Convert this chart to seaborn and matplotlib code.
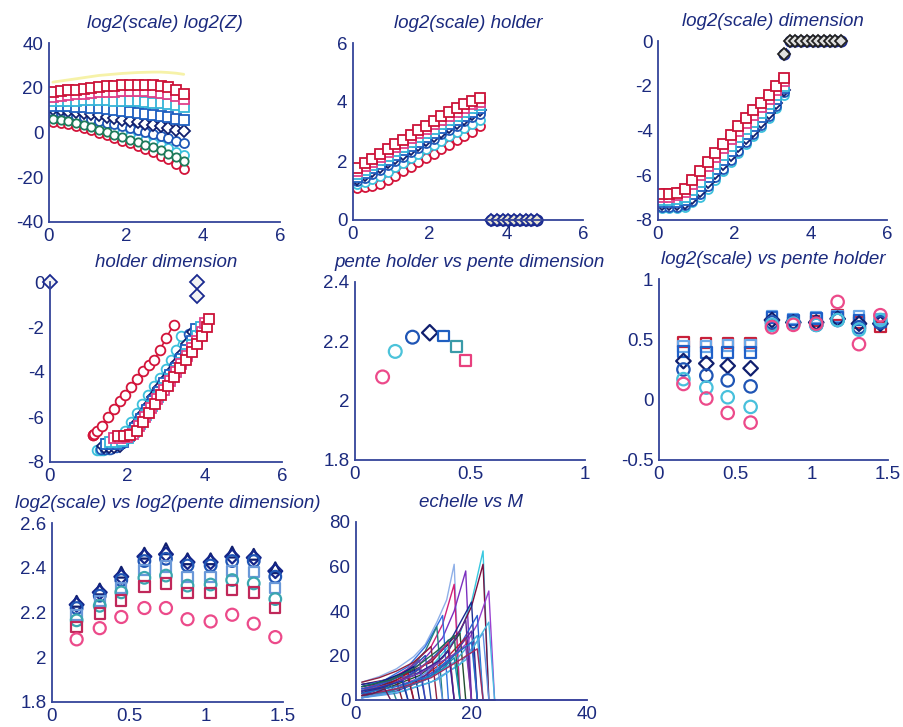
import numpy as np
import pandas as pd
import matplotlib
matplotlib.use("Agg")
import matplotlib.pyplot as plt
import seaborn as sns
from matplotlib.ticker import FuncFormatter

sns.set_theme(style="white")
plt.rcParams["font.family"] = ["Liberation Sans", "DejaVu Sans"]
plt.rcParams["axes.unicode_minus"] = False

TXT = "#1b2a7e"
AX_COL = "#34449a"

# ---------------- series styling (order: top -> bottom in panel 1) ----------
SER_NAMES = ["q1", "q2", "q3", "q4", "q5", "q6", "q7", "q8"]
SER_COLORS = ["#cc1238", "#e0408a", "#35b3d8", "#1f5fc0", "#101f6e", "#1f58b8", "#3cc0dc", "#d3143a"]
SER_MARKERS = ["s", "s", "s", "s", "D", "o", "o", "o"]

# ---------------- panel 1 : log2(scale) vs log2(Z) ----------------
P1_X = [0.1, 0.3, 0.5, 0.7, 0.9, 1.1, 1.3, 1.5, 1.7, 1.9, 2.1, 2.3, 2.5, 2.7, 2.9, 3.1, 3.3, 3.5]
P1_YELLOW = [22.5, 23, 23.5, 24, 24.5, 25, 25.5, 25.8, 26.1, 26.4, 26.6, 26.8, 26.9, 27.0, 27.0, 26.8, 26.5, 26.0]
P1_GREEN = [6, 5.6, 5.0, 4.2, 3.3, 2.3, 1.2, 0.1, -1.0, -2.1, -3.2, -4.3, -5.5, -6.7, -8.0, -9.4, -11, -12.7]
P1_S1 = [18, 18.4, 18.8, 19.2, 19.6, 20, 20.3, 20.6, 20.9, 21.1, 21.3, 21.4, 21.4, 21.2, 20.8, 20.2, 19, 17]
P1_S2 = [16, 16.3, 16.6, 17, 17.3, 17.6, 17.9, 18.1, 18.3, 18.4, 18.5, 18.5, 18.4, 18.2, 17.8, 17.2, 16.3, 15]
P1_S3 = [14, 14.1, 14.2, 14.3, 14.4, 14.4, 14.4, 14.4, 14.3, 14.2, 14.1, 13.9, 13.7, 13.4, 13.0, 12.6, 12.1, 11.5]
P1_S4 = [12, 11.9, 11.8, 11.6, 11.4, 11.1, 10.8, 10.5, 10.1, 9.7, 9.3, 8.9, 8.4, 7.9, 7.4, 6.8, 6.2, 5.5]
P1_S5 = [10.5, 10.2, 9.8, 9.3, 8.8, 8.2, 7.6, 7.0, 6.4, 5.8, 5.2, 4.6, 4.0, 3.4, 2.7, 2.0, 1.3, 0.5]
P1_S6 = [9, 8.6, 8.1, 7.5, 6.8, 6.0, 5.2, 4.4, 3.6, 2.8, 2.0, 1.2, 0.4, -0.5, -1.5, -2.5, -3.6, -4.8]
P1_S7 = [7, 6.6, 6.0, 5.3, 4.5, 3.6, 2.6, 1.6, 0.6, -0.4, -1.4, -2.4, -3.5, -4.6, -5.8, -7.0, -8.5, -10]
P1_S8 = [4.5, 4.2, 3.6, 2.8, 1.9, 0.9, -0.2, -1.3, -2.5, -3.7, -4.9, -6.2, -7.5, -8.9, -10.4, -12, -14, -16.5]

# ---------------- panel 2 : holder ; panel 3 : dimension ----------------
P23_X = [0.1, 0.3, 0.5, 0.7, 0.9, 1.1, 1.3, 1.5, 1.7, 1.9, 2.1, 2.3, 2.5, 2.7, 2.9, 3.1, 3.3]
H_S1 = [1.75, 1.92, 2.08, 2.24, 2.40, 2.56, 2.72, 2.88, 3.04, 3.20, 3.36, 3.52, 3.66, 3.80, 3.93, 4.05, 4.12]
H_S2 = [1.65, 1.82, 1.98, 2.14, 2.30, 2.46, 2.62, 2.78, 2.94, 3.10, 3.25, 3.40, 3.54, 3.67, 3.80, 3.92, 4.00]
H_S3 = [1.55, 1.70, 1.86, 2.02, 2.17, 2.33, 2.48, 2.64, 2.80, 2.95, 3.10, 3.25, 3.40, 3.54, 3.67, 3.80, 3.90]
H_S4 = [1.45, 1.60, 1.75, 1.90, 2.05, 2.20, 2.36, 2.51, 2.66, 2.81, 2.96, 3.11, 3.26, 3.40, 3.53, 3.66, 3.78]
H_S5 = [1.40, 1.52, 1.65, 1.80, 1.95, 2.10, 2.25, 2.40, 2.55, 2.70, 2.85, 3.00, 3.15, 3.30, 3.44, 3.58, 3.72]
H_S6 = [1.32, 1.42, 1.55, 1.70, 1.85, 2.00, 2.15, 2.30, 2.45, 2.60, 2.75, 2.90, 3.05, 3.20, 3.34, 3.48, 3.60]
H_S7 = [1.22, 1.30, 1.38, 1.50, 1.64, 1.79, 1.94, 2.09, 2.24, 2.39, 2.54, 2.69, 2.84, 2.99, 3.13, 3.27, 3.40]
H_S8 = [1.10, 1.12, 1.15, 1.22, 1.35, 1.50, 1.65, 1.80, 1.95, 2.10, 2.25, 2.40, 2.55, 2.70, 2.85, 3.00, 3.20]

D_S1 = [-6.85, -6.85, -6.80, -6.60, -6.20, -5.80, -5.40, -5.00, -4.60, -4.20, -3.80, -3.45, -3.10, -2.75, -2.40, -2.00, -1.65]
D_S2 = [-6.95, -6.95, -6.90, -6.75, -6.40, -6.00, -5.60, -5.20, -4.80, -4.40, -4.00, -3.65, -3.30, -2.95, -2.60, -2.20, -1.80]
D_S3 = [-7.10, -7.10, -7.05, -6.95, -6.65, -6.30, -5.90, -5.50, -5.10, -4.70, -4.30, -3.95, -3.60, -3.20, -2.80, -2.40, -2.00]
D_S4 = [-7.20, -7.20, -7.20, -7.10, -6.85, -6.50, -6.10, -5.70, -5.30, -4.90, -4.50, -4.15, -3.80, -3.40, -3.00, -2.60, -2.10]
D_S5 = [-7.30, -7.30, -7.30, -7.25, -7.00, -6.70, -6.30, -5.90, -5.50, -5.10, -4.70, -4.35, -4.00, -3.60, -3.20, -2.75, -2.20]
D_S6 = [-7.40, -7.40, -7.40, -7.35, -7.15, -6.85, -6.50, -6.10, -5.70, -5.30, -4.90, -4.50, -4.15, -3.75, -3.35, -2.90, -2.30]
D_S7 = [-7.45, -7.45, -7.45, -7.40, -7.20, -6.95, -6.60, -6.20, -5.80, -5.40, -5.00, -4.60, -4.25, -3.85, -3.45, -3.00, -2.40]
D_S8 = [-6.80, -6.80, -6.75, -6.60, -6.40, -6.00, -5.65, -5.30, -5.00, -4.65, -4.30, -3.95, -3.70, -3.45, -3.00, -2.50, -1.90]

# zero tails (undefined estimates set to 0)
P2_TAIL_X = [3.6, 3.75, 3.9, 4.05, 4.2, 4.35, 4.5, 4.65, 4.8]
P2_TAIL_Y = [0, 0, 0, 0, 0, 0, 0, 0, 0]
P3_TAIL_X = [3.3, 3.45, 3.6, 3.75, 3.9, 4.05, 4.2, 4.35, 4.5, 4.65, 4.8]
P3_TAIL_Y = [-0.6, 0, 0, 0, 0, 0, 0, 0, 0, 0, 0]
P4_EXTRA_X = [0.0, 3.8, 3.8]
P4_EXTRA_Y = [0.0, 0.0, -0.6]

# ---------------- panel 5 : pente holder vs pente dimension ----------------
P5_X = [0.12, 0.175, 0.25, 0.325, 0.385, 0.44, 0.48]
P5_Y = [2.08, 2.166, 2.214, 2.229, 2.218, 2.183, 2.135]
P5_COLORS = ["#ec4a8a", "#4cc3da", "#1f55b5", "#101f6e", "#1f5fc0", "#3a9aa8", "#e8407e"]
P5_MARKERS = ["o", "o", "o", "D", "s", "s", "s"]

# ---------------- panel 6 : log2(scale) vs pente holder ----------------
P67_X = [0.16, 0.31, 0.45, 0.60, 0.74, 0.88, 1.03, 1.17, 1.31, 1.45]
P6_PINK_C = [0.13, 0.01, -0.11, -0.19, 0.60, 0.62, 0.63, 0.81, 0.46, 0.70]
P6_CYAN_C = [0.17, 0.10, 0.02, -0.06, 0.62, 0.63, 0.62, 0.66, 0.58, 0.66]
P6_BLUE_C = [0.25, 0.20, 0.16, 0.11, 0.64, 0.64, 0.62, 0.66, 0.60, 0.64]
P6_NAVY_D = [0.32, 0.30, 0.28, 0.26, 0.66, 0.64, 0.64, 0.67, 0.63, 0.63]
P6_BLUE_S = [0.40, 0.39, 0.39, 0.39, 0.68, 0.66, 0.67, 0.68, 0.66, 0.65]
P6_LBLUE_S = [0.44, 0.44, 0.45, 0.45, 0.69, 0.67, 0.68, 0.69, 0.69, 0.67]
P6_RED_S = [0.48, 0.47, 0.47, 0.47, 0.62, 0.64, 0.65, 0.70, 0.64, 0.60]
P6_RED_DASH = [0.52, 0.53, 0.54, 0.54, 0.60, 0.62, 0.63, 0.66, 0.62, 0.58]

# ---------------- panel 7 : log2(scale) vs log2(pente dimension) ----------------
P7_PINK_C = [2.08, 2.13, 2.18, 2.22, 2.22, 2.17, 2.16, 2.19, 2.15, 2.09]
P7_RED_S = [2.135, 2.196, 2.253, 2.316, 2.33, 2.286, 2.286, 2.30, 2.29, 2.22]
P7_TEAL_C = [2.165, 2.23, 2.29, 2.355, 2.365, 2.32, 2.325, 2.345, 2.33, 2.26]
P7_LBLUE_S = [2.19, 2.25, 2.31, 2.39, 2.405, 2.36, 2.36, 2.385, 2.38, 2.31]
P7_BLUE_C = [2.22, 2.275, 2.345, 2.43, 2.44, 2.41, 2.41, 2.43, 2.43, 2.36]
P7_NAVY_D = [2.235, 2.29, 2.36, 2.45, 2.46, 2.425, 2.425, 2.45, 2.445, 2.385]
P7_NAVY_T = [2.25, 2.305, 2.38, 2.465, 2.485, 2.44, 2.44, 2.47, 2.46, 2.40]

# ---------------- panel 8 : echelle vs M ----------------
ECH_X = [
    [1, 4, 7, 10, 12, 14, 15.7, 17, 18, 24],
    [1, 5, 9, 13, 15, 17, 18, 24],
    [1, 6, 11, 15, 17, 19, 20, 24],
    [1, 7, 13, 18, 20, 22, 23, 24],
    [1, 7, 13, 18, 20, 22, 23, 24],
    [1, 8, 14, 19, 21, 23, 24, 40],
    [1, 6, 11, 16, 20, 21, 24],
    [1, 7, 12, 17, 21, 22, 24],
    [1, 5, 9, 12, 15, 16, 24],
    [1, 5, 9, 12, 14, 15, 24],
    [1, 6, 11, 15, 18, 19, 24],
    [1, 6, 11, 15, 19, 20, 24],
    [1, 5, 9, 13, 16, 17, 24],
    [1, 7, 12, 16, 20, 21, 24],
    [1, 7, 12, 17, 21, 22, 24],
    [1, 7, 13, 18, 22, 23, 24],
    [1, 4, 7, 10, 13, 14, 24],
    [1, 4, 7, 10, 12, 13, 24],
    [1, 4, 7, 9, 11, 12, 24],
    [1, 3, 6, 8, 10, 11, 24],
    [1, 3, 5, 7, 9, 10, 24],
    [1, 3, 5, 7, 8, 9, 24],
    [1, 3, 5, 7, 8, 24],
    [1, 3, 5, 6, 7, 24],
    [1, 8, 14, 19, 23, 24],
    [1, 6, 10, 14, 17, 18, 24],
    [1, 7, 12, 16, 19, 20, 24],
    [1, 6, 10, 14, 16, 17, 24],
    [1, 4, 8, 11, 12, 24],
    [1, 4, 7, 9, 10, 24],
    [1, 5, 9, 12, 14, 15, 24],
    [1, 5, 10, 14, 16, 17, 24],
    [1, 6, 11, 15, 17, 18, 24],
    [1, 6, 11, 16, 19, 20, 24],
    [1, 7, 13, 17, 20, 21, 24],
    [1, 7, 13, 18, 21, 22, 24],
    [1, 4, 6, 8, 9, 24],
    [1, 3, 4, 5, 6, 24],
]
ECH_Y = [
    [8, 10.5, 14, 19.5, 25, 35, 45, 61, 0, 0],
    [5, 8, 14, 24, 34, 52, 0, 0],
    [6, 9, 16, 28, 40, 58, 0, 0],
    [4, 8, 15, 30, 44, 67, 0, 0],
    [7, 10, 17, 31, 42, 61, 0, 0],
    [3, 7, 13, 25, 34, 49, 0, 0],
    [7, 9, 14, 25, 44, 0, 0],
    [2, 5, 10, 20, 38, 0, 0],
    [6, 9, 15, 24, 38, 0, 0],
    [4, 8, 13, 22, 33, 0, 0],
    [3, 6, 11, 19, 30, 0, 0],
    [2, 4, 9, 17, 28, 0, 0],
    [5, 7, 11, 18, 27, 0, 0],
    [1, 4, 9, 17, 31, 0, 0],
    [2, 5, 9, 17, 29, 0, 0],
    [1, 3, 8, 16, 30, 0, 0],
    [8, 10, 13, 17, 24, 0, 0],
    [3, 6, 10, 15, 20, 0, 0],
    [4, 7, 10, 14, 18, 0, 0],
    [6, 7, 10, 12, 15, 0, 0],
    [2, 4, 6, 9, 12, 0, 0],
    [5, 6, 8, 10, 11, 0, 0],
    [3, 5, 7, 9, 0, 0],
    [1, 3, 5, 7, 0, 0],
    [1, 4, 9, 18, 35, 0],
    [6, 9, 14, 22, 29, 0, 0],
    [2, 5, 11, 22, 36, 0, 0],
    [4, 7, 12, 20, 26, 0, 0],
    [2, 5, 9, 14, 0, 0],
    [3, 5, 8, 10, 0, 0],
    [1, 3, 7, 12, 17, 0, 0],
    [3, 6, 11, 17, 22, 0, 0],
    [2, 4, 8, 14, 19, 0, 0],
    [4, 7, 12, 19, 24, 0, 0],
    [3, 6, 11, 20, 26, 0, 0],
    [2, 5, 10, 18, 23, 0, 0],
    [4, 5.5, 7, 8.5, 0, 0],
    [2, 3, 4, 5, 0, 0],
]
ECH_COLORS = [
    "#8fb0e8", "#d0207a", "#7b2fbf", "#38c8e0", "#7a1040", "#9a40d0", "#1a2a90",
    "#2a60d0", "#3070e0", "#208080", "#205030", "#c01830", "#4060c0", "#6030a0",
    "#40a8d8", "#6090e0", "#902040", "#2050b0", "#7040b0", "#102080", "#b01020",
    "#3050c0", "#801830", "#308890", "#48b8e0", "#1d6a50", "#5a2a90", "#c03060",
    "#2a4ab8", "#8a1a3a", "#5b8fe0", "#3a2090", "#1090b0", "#7a3ab0", "#2070c8",
    "#a02a60", "#1a3aa0", "#6a1a50",
]

# ---------------- figure ----------------
W, H = 904, 727
fig = plt.figure(figsize=(W / 100, H / 100), dpi=100)
fig.patch.set_facecolor("white")


def add_ax(l, t, w, h):
    return fig.add_axes([l / W, 1 - (t + h) / H, w / W, h / H])


fmt = FuncFormatter(lambda v, p: "%g" % v)


def style(ax, xlim, ylim, xt, yt, title):
    ax.set_xlim(*xlim)
    ax.set_ylim(*ylim)
    ax.set_xticks(xt)
    ax.set_yticks(yt)
    ax.xaxis.set_major_formatter(fmt)
    ax.yaxis.set_major_formatter(fmt)
    for s in ["top", "right"]:
        ax.spines[s].set_visible(False)
    for s in ["left", "bottom"]:
        ax.spines[s].set_color(AX_COL)
        ax.spines[s].set_linewidth(1.3)
    ax.tick_params(direction="in", length=3, width=1, colors=AX_COL,
                   labelcolor=TXT, labelsize=13.5, pad=4)
    ax.set_xlabel("")
    ax.set_ylabel("")
    ax.set_title(title, fontsize=13.5, fontstyle="italic", color=TXT, pad=11)
    ax.set_facecolor("white")
    ax.grid(False)


def line_series(ax, x, y, color, marker, ms=6.5, lw=1.2, mfc="white", ls="-", clip=True):
    sns.lineplot(x=x, y=y, ax=ax, color=color, marker=marker, markersize=ms,
                 markerfacecolor=mfc, markeredgecolor=color, markeredgewidth=1.3,
                 linewidth=lw, linestyle=ls, sort=False, estimator=None,
                 legend=False, clip_on=clip)


def dots(ax, x, y, color, marker, s=70, lw=1.6):
    sns.scatterplot(x=x, y=y, ax=ax, marker=marker, s=s, facecolors="none",
                    edgecolors=color, linewidths=lw, legend=False, clip_on=False)


P1_SERIES = [P1_S1, P1_S2, P1_S3, P1_S4, P1_S5, P1_S6, P1_S7, P1_S8]
H_SERIES = [H_S1, H_S2, H_S3, H_S4, H_S5, H_S6, H_S7, H_S8]
D_SERIES = [D_S1, D_S2, D_S3, D_S4, D_S5, D_S6, D_S7, D_S8]

# panel 1
ax1 = add_ax(49, 43, 231, 179)
sns.lineplot(x=P1_X, y=P1_YELLOW, ax=ax1, color="#f6f2a8", linewidth=2.0, sort=False, estimator=None)
for i in reversed(range(8)):
    line_series(ax1, P1_X, P1_SERIES[i], SER_COLORS[i], SER_MARKERS[i])
line_series(ax1, P1_X, P1_GREEN, "#1e7a5a", "o", ms=6)
style(ax1, (0, 6), (-40, 40), [0, 2, 4, 6], [-40, -20, 0, 20, 40], "log2(scale) log2(Z)")

# panel 2
ax2 = add_ax(353, 43, 230, 177)
for i in reversed(range(8)):
    line_series(ax2, P23_X, H_SERIES[i], SER_COLORS[i], SER_MARKERS[i])
line_series(ax2, P2_TAIL_X, P2_TAIL_Y, "#1a2a90", "o", ms=7.5, lw=0.8, mfc="#fdf8e0", ls=":", clip=False)
line_series(ax2, P2_TAIL_X, P2_TAIL_Y, "#1a2a90", "D", ms=6, lw=0.0, mfc="#e8e4d0", clip=False)
style(ax2, (0, 6), (0, 6), [0, 2, 4, 6], [0, 2, 4, 6], "log2(scale) holder")

# panel 3
ax3 = add_ax(658, 41, 229, 179)
for i in reversed(range(8)):
    line_series(ax3, P23_X, D_SERIES[i], SER_COLORS[i], SER_MARKERS[i])
line_series(ax3, P3_TAIL_X, P3_TAIL_Y, "#1a2a90", "o", ms=7.5, lw=0.8, mfc="#f4f4f4", ls=":", clip=False)
line_series(ax3, P3_TAIL_X, P3_TAIL_Y, "#222222", "D", ms=6, lw=0.0, mfc="#e0e0e0", clip=False)
style(ax3, (0, 6), (-8, 0), [0, 2, 4, 6], [-8, -6, -4, -2, 0], "log2(scale) dimension")

# panel 4
ax4 = add_ax(50, 282, 232, 180)
for i in reversed(range(8)):
    line_series(ax4, H_SERIES[i], D_SERIES[i], SER_COLORS[i], SER_MARKERS[i], ms=7)
line_series(ax4, P4_EXTRA_X[1:], P4_EXTRA_Y[1:], "#1a2a90", "D", ms=7, lw=1.0, mfc="#f4f4f4", ls=":", clip=False)
line_series(ax4, P4_EXTRA_X[:1], P4_EXTRA_Y[:1], "#1a2a90", "D", ms=7, lw=0, mfc="#f4f4f4", clip=False)
style(ax4, (0, 6), (-8, 0), [0, 2, 4, 6], [-8, -6, -4, -2, 0], "holder dimension")

# panel 5
ax5 = add_ax(355, 282, 230, 178)
for xv, yv, c, m in zip(P5_X, P5_Y, P5_COLORS, P5_MARKERS):
    dots(ax5, [xv], [yv], c, m, s=85 if m == "o" else 62)
style(ax5, (0, 1), (1.8, 2.4), [0, 0.5, 1], [1.8, 2, 2.2, 2.4], "pente holder vs pente dimension")

# panel 6
ax6 = add_ax(659, 279, 229, 181)
dots(ax6, P67_X, P6_RED_DASH, "#e0303a", "_", s=60, lw=2.0)
dots(ax6, P67_X, P6_RED_S, "#c8203a", "s", s=55)
dots(ax6, P67_X, P6_LBLUE_S, "#6aa8e8", "s", s=55)
dots(ax6, P67_X, P6_BLUE_S, "#2060c8", "s", s=60)
dots(ax6, P67_X, P6_NAVY_D, "#101f6e", "D", s=55)
dots(ax6, P67_X, P6_BLUE_C, "#1f55b5", "o", s=80)
dots(ax6, P67_X, P6_CYAN_C, "#48c0dc", "o", s=80)
dots(ax6, P67_X, P6_PINK_C, "#ec4a8a", "o", s=80)
style(ax6, (0, 1.5), (-0.5, 1), [0, 0.5, 1, 1.5], [-0.5, 0, 0.5, 1], "log2(scale) vs pente holder")

# panel 7
ax7 = add_ax(52, 523, 231, 179)
dots(ax7, P67_X, P7_NAVY_T, "#101f6e", "^", s=60)
dots(ax7, P67_X, P7_NAVY_D, "#14268a", "D", s=50)
dots(ax7, P67_X, P7_BLUE_C, "#1f55b5", "o", s=70)
dots(ax7, P67_X, P7_LBLUE_S, "#6a98d8", "s", s=55)
dots(ax7, P67_X, P7_TEAL_C, "#3aa6b0", "o", s=70)
dots(ax7, P67_X, P7_RED_S, "#c0285a", "s", s=55)
dots(ax7, P67_X, P7_PINK_C, "#ec4a8a", "o", s=75)
style(ax7, (0, 1.5), (1.8, 2.6), [0, 0.5, 1, 1.5], [1.8, 2, 2.2, 2.4, 2.6],
      "log2(scale) vs log2(pente dimension)")

# panel 8
ax8 = add_ax(356, 522, 231, 178)
for xs, ys, c in zip(ECH_X, ECH_Y, ECH_COLORS):
    sns.lineplot(x=xs, y=ys, ax=ax8, color=c, linewidth=1.0, sort=False,
                 estimator=None, legend=False, clip_on=False)
style(ax8, (0, 40), (0, 80), [0, 20, 40], [0, 20, 40, 60, 80], "echelle vs M")

fig.savefig("out.png", dpi=100, facecolor="white")
